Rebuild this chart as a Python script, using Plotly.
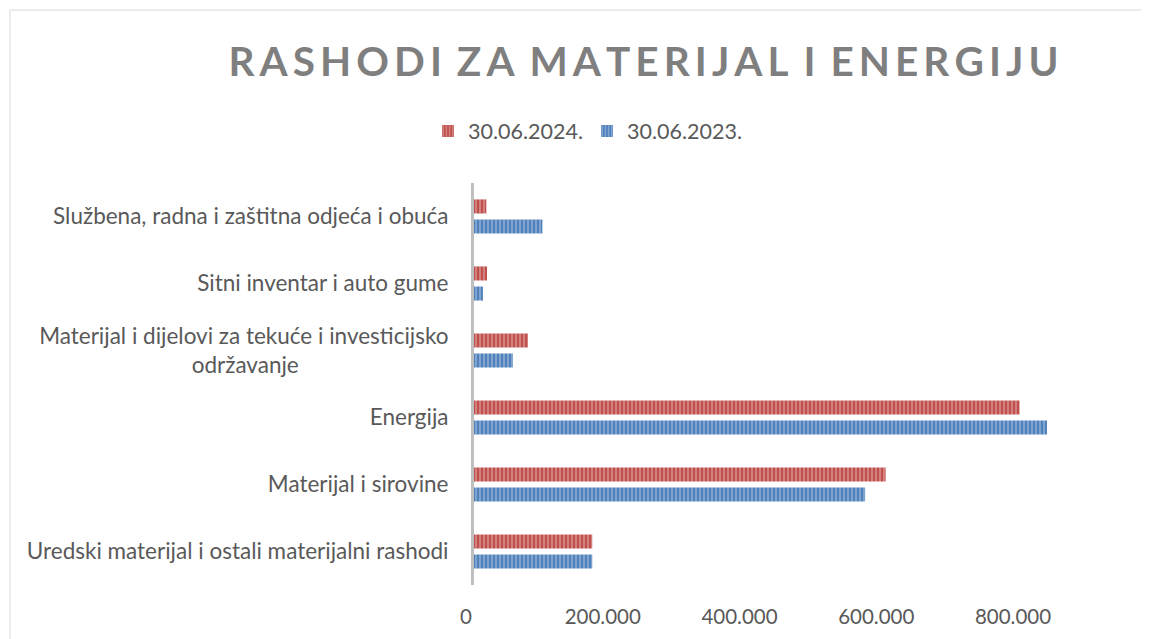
import plotly.graph_objects as go

# categories from bottom to top, as in the chart
categories = [
    "Uredski materijal i ostali materijalni rashodi",
    "Materijal i sirovine",
    "Energija",
    "Materijal i dijelovi za tekuće i investicijsko održavanje",
    "Sitni inventar i auto gume",
    "Službena, radna i zaštitna odjeća i obuća",
]
tick_labels = [
    "Uredski materijal i ostali materijalni rashodi",
    "Materijal i sirovine",
    "Energija",
    "Materijal i dijelovi za tekuće i investicijsko<br>održavanje" + "\u00a0" * 26,
    "Sitni inventar i auto gume",
    "Službena, radna i zaštitna odjeća i obuća",
]
values_2024 = [173000, 602000, 798000, 79000, 19000, 18000]
values_2023 = [173000, 572000, 838000, 57000, 13000, 100000]

x_ticks = [0, 200000, 400000, 600000, 800000]
x_tick_text = ["0", "200.000", "400.000", "600.000", "800.000"]

OFF = 8  # page body margin
W, H = 1149, 639
L, R, T, B = 474 - OFF, 0, 183 - OFF, 54 + OFF
pw, ph = W - L - R, H - T - B
px_per_unit = 136.75 / 200000

FONT = "Lato, 'Open Sans', sans-serif"
TXT = "#595959"

fig = go.Figure()
# blue first so that red sits on top within each group
fig.add_trace(go.Bar(
    y=categories, x=values_2023, orientation="h", name="30.06.2023.",
    marker=dict(color="#4F81BD", line=dict(width=0),
                pattern=dict(shape="|", fgcolor="#ffffff", fgopacity=0.35, size=4, solidity=0.4)),
))
fig.add_trace(go.Bar(
    y=categories, x=values_2024, orientation="h", name="30.06.2024.",
    marker=dict(color="#C0504D", line=dict(width=0),
                pattern=dict(shape="|", fgcolor="#ffffff", fgopacity=0.35, size=4, solidity=0.4)),
))

# spaced-out title letters
title = "\u2009 ".join("\u200a\u200a".join(w) for w in "RASHODI ZA MATERIJAL I ENERGIJU".split(" "))

fig.update_layout(
    width=W, height=H,
    margin=dict(l=L, r=R, t=T, b=B),
    paper_bgcolor="white", plot_bgcolor="white",
    barmode="group", bargap=0.4, bargroupgap=0.3,
    font=dict(family=FONT, size=22, color=TXT),
    title=dict(text=title, x=(643.5 - OFF) / W, xanchor="center", xref="container",
               y=1 - (62 - OFF) / H, yanchor="middle", yref="container",
               font=dict(family=FONT, size=40.5, color="#7F7F7F", weight=700)),
    legend=dict(orientation="h", xref="container", yref="container",
                x=(428 - OFF) / W, xanchor="left", y=1 - (131 - OFF) / H, yanchor="middle",
                traceorder="reversed", font=dict(size=21.5, color=TXT),
                entrywidth=114, entrywidthmode="pixels"),
    showlegend=True,
    xaxis=dict(range=[0, pw / px_per_unit], tickvals=x_ticks, ticktext=x_tick_text,
               showgrid=False, zeroline=False, showline=False, ticks="",
               ticklabelshift=-8, ticklabelstandoff=17,
               tickfont=dict(size=20.5, color=TXT), fixedrange=True),
    yaxis=dict(categoryorder="array", categoryarray=categories,
               tickvals=categories, ticktext=tick_labels,
               showgrid=False, zeroline=False, showline=True,
               linecolor="#BFBFBF", linewidth=3, ticks="",
               ticklabelstandoff=18, tickfont=dict(size=22.5, color=TXT)),
)

# chart area border (cropped on right and bottom)
fig.add_shape(type="rect", xref="paper", yref="paper",
              x0=(10 - OFF - L) / pw, x1=(W + 20 - L) / pw,
              y0=-(B + 20) / ph, y1=(H - (10 - OFF) - B) / ph,
              line=dict(color="#D9D9D9", width=1), fillcolor="rgba(0,0,0,0)", layer="below")

fig.write_html("out.html")
